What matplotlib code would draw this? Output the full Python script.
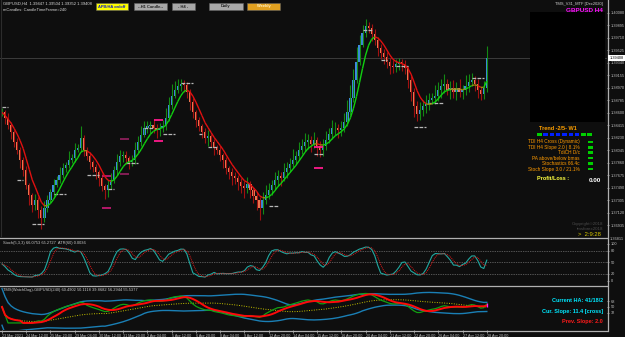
import matplotlib
matplotlib.use("Agg")
import matplotlib.pyplot as plt
from matplotlib.collections import LineCollection
from matplotlib.patches import Rectangle
import numpy as np
import pandas as pd

plt.rcParams['font.family'] = ['Liberation Sans', 'DejaVu Sans']

# H4 closes, GBPUSD 23 Mar - 28 Apr 2021
close = [1.3861, 1.3852, 1.3842, 1.3832, 1.3817, 1.3805, 1.3790, 1.3775, 1.3753, 1.3738,
         1.3724, 1.3731, 1.3716, 1.3704, 1.3719, 1.3731, 1.3743, 1.3753, 1.3761, 1.3768,
         1.3778, 1.3783, 1.3790, 1.3793, 1.3805, 1.3808, 1.3823, 1.3805, 1.3796, 1.3787,
         1.3780, 1.3772, 1.3764, 1.3752, 1.3746, 1.3753, 1.3761, 1.3775, 1.3787, 1.3796,
         1.3798, 1.3793, 1.3787, 1.3790, 1.3805, 1.3817, 1.3827, 1.3838, 1.3840, 1.3842,
         1.3838, 1.3835, 1.3838, 1.3840, 1.3852, 1.3872, 1.3885, 1.3894, 1.3900, 1.3903,
         1.3901, 1.3891, 1.3876, 1.3861, 1.3849, 1.3840, 1.3832, 1.3823, 1.3826, 1.3817,
         1.3808, 1.3805, 1.3798, 1.3790, 1.3778, 1.3772, 1.3767, 1.3764, 1.3758, 1.3752,
         1.3749, 1.3755, 1.3746, 1.3737, 1.3731, 1.3719, 1.3731, 1.3738, 1.3746, 1.3753,
         1.3761, 1.3767, 1.3764, 1.3772, 1.3778, 1.3784, 1.3790, 1.3796, 1.3805, 1.3811,
         1.3817, 1.3820, 1.3814, 1.3820, 1.3811, 1.3805, 1.3811, 1.3820, 1.3829, 1.3838,
         1.3838, 1.3835, 1.3838, 1.3846, 1.3861, 1.3882, 1.3909, 1.3935, 1.3960, 1.3978,
         1.3989, 1.3986, 1.3977, 1.3968, 1.3956, 1.3949, 1.3943, 1.3935, 1.3929, 1.3928,
         1.3932, 1.3935, 1.3932, 1.3926, 1.3909, 1.3891, 1.3870, 1.3858, 1.3864, 1.3870,
         1.3873, 1.3879, 1.3882, 1.3885, 1.3894, 1.3900, 1.3903, 1.3894, 1.3897, 1.3891,
         1.3897, 1.3891, 1.3894, 1.3900, 1.3906, 1.3909, 1.3903, 1.3894, 1.3888, 1.3897,
         1.3941]
# wick lengths in pips above / below the body
wick_up = [6, 4, 8, 5, 3, 6, 4, 5, 7, 4, 3, 9, 5, 6, 10, 8, 5, 9, 6, 12,
           8, 5, 14, 7, 10, 6, 18, 5, 4, 6, 3, 5, 4, 6, 3, 8, 10, 7, 12, 9,
           6, 5, 4, 8, 12, 9, 14, 10, 8, 6, 9, 5, 7, 10, 15, 12, 18, 14, 10, 8,
           6, 5, 4, 6, 3, 5, 4, 6, 9, 3, 5, 4, 6, 3, 5, 4, 7, 5, 4, 6,
           8, 10, 5, 4, 6, 5, 12, 15, 10, 8, 12, 9, 6, 14, 10, 9, 16, 8, 12, 10,
           14, 9, 6, 12, 5, 8, 10, 14, 9, 12, 8, 6, 10, 14, 18, 20, 16, 22, 15, 12,
           10, 6, 5, 8, 4, 6, 5, 7, 6, 9, 8, 6, 5, 7, 4, 5, 6, 8, 12, 9,
           14, 10, 8, 16, 12, 10, 14, 8, 10, 12, 9, 14, 8, 16, 12, 10, 6, 8, 5, 10,
           18]
wick_dn = [5, 8, 6, 10, 7, 5, 12, 9, 6, 14, 10, 8, 12, 16, 6, 5, 4, 6, 3, 5,
           4, 6, 5, 4, 6, 3, 5, 8, 6, 10, 7, 9, 12, 8, 14, 10, 6, 5, 7, 6,
           9, 8, 10, 6, 5, 4, 6, 3, 8, 10, 7, 12, 9, 6, 5, 4, 6, 3, 5, 8,
           10, 9, 12, 8, 10, 6, 9, 7, 12, 8, 10, 6, 9, 12, 8, 10, 14, 9, 12, 10,
           15, 8, 12, 10, 14, 18, 8, 6, 5, 7, 6, 9, 12, 5, 8, 6, 4, 7, 5, 6,
           8, 10, 12, 6, 14, 10, 9, 6, 5, 8, 10, 12, 9, 6, 5, 4, 6, 5, 4, 3,
           5, 8, 10, 7, 12, 9, 10, 8, 11, 9, 7, 8, 10, 9, 12, 14, 16, 10, 8, 9,
           10, 8, 6, 9, 7, 12, 10, 8, 14, 9, 12, 8, 10, 7, 9, 6, 10, 12, 9, 8,
           6]
time_labels = ['23 Mar 2021', '24 Mar 12:00', '25 Mar 20:00', '29 Mar 04:00', '30 Mar 12:00',
               '31 Mar 20:00', '2 Apr 04:00', '5 Apr 12:00', '6 Apr 20:00', '8 Apr 04:00',
               '9 Apr 12:00', '12 Apr 20:00', '14 Apr 04:00', '15 Apr 12:00', '16 Apr 20:00',
               '20 Apr 04:00', '21 Apr 12:00', '22 Apr 20:00', '26 Apr 04:00', '27 Apr 12:00',
               '28 Apr 20:00']
price_ticks = [1.40080, 1.39895, 1.39710, 1.39525, 1.39340, 1.39155, 1.38970, 1.38785,
               1.38600, 1.38415, 1.38230, 1.38045, 1.37860, 1.37675, 1.37490, 1.37305,
               1.37120, 1.36935]
last_price = 1.39408

# grey candle-timeframe dashes and magenta range boxes
dash_bar0 = [0, 5, 10, 17, 28, 35, 41, 47, 53, 59, 65, 68, 88, 103, 119, 125, 130, 136, 141, 147, 155]
dash_bar1 = [2, 7, 14, 21, 32, 37, 45, 50, 57, 63, 66, 71, 91, 106, 122, 127, 134, 140, 146, 151, 159]
dash_price = [1.3869, 1.3761, 1.3696, 1.3740, 1.3768, 1.3747, 1.3786, 1.3838, 1.3829, 1.3904, 1.3829,
              1.3810, 1.3722, 1.3800, 1.3983, 1.3938, 1.3929, 1.3839, 1.3875, 1.3895, 1.3912]
box_bar0 = [33, 39, 50, 103]
box_bar1 = [36, 42, 53, 106]
box_top = [1.3766, 1.3821, 1.3849, 1.3809]
box_bot = [1.3719, 1.3769, 1.3818, 1.3778]
box_color = ['#c01870', '#8c1f5a', '#ff1a8c', '#ff1a8c']

BG = '#0e0e0e'
W, H = 625, 337
TICK = '#c0c0c0'
FS = 2.8


def fx(x):
    return x / W


def fy(y):
    return 1 - y / H


c = np.array(close)
n = len(c)
idx = np.arange(n)
o = np.r_[c[0], c[:-1]]
hi = np.maximum(o, c) + np.array(wick_up) * 1e-4
lo = np.minimum(o, c) - np.array(wick_dn) * 1e-4
up = c >= o

fig = plt.figure(figsize=(W / 100, H / 100), dpi=100, facecolor=BG)
xlim = (-2 / 3.03, 605 / 3.03)

# ---- main price panel
ax = fig.add_axes([0, fy(236), fx(607), 236 / H], facecolor=BG)
ax.vlines(idx[up], lo[up], hi[up], color='#138a13', lw=0.8)
ax.vlines(idx[~up], lo[~up], hi[~up], color='#a01010', lw=0.8)
ax.bar(idx[up], (c - o)[up], bottom=o[up], width=0.72, color='#3d8be0', lw=0)
ax.bar(idx[~up], (o - c)[~up], bottom=c[~up], width=0.72, color='#ef7b52', lw=0)
ax.hlines(dash_price, dash_bar0, dash_bar1, color='#b8b8b8', lw=0.9, linestyles=(0, (3, 1)))
ax.hlines(box_top, box_bar0, box_bar1, color=box_color, lw=1.3)
ax.hlines(box_bot, box_bar0, box_bar1, color=box_color, lw=1.3)
ax.axhline(last_price, color='#3c3c3c', lw=0.7, zorder=0)

# LWMA(8) coloured by slope
w = np.arange(1, 9)
ma = []
for i in range(n):
    seg = c[max(0, i - 7):i + 1]
    ww = w[-len(seg):]
    ma.append(np.dot(seg, ww) / ww.sum())
ma = np.array(ma)
d = np.diff(ma)
cols = np.where(d > 1.2e-4, '#10d010', np.where(d < -1.2e-4, '#e01010', '#9a8a10'))
segs = np.stack([np.column_stack([idx[:-1], ma[:-1]]), np.column_stack([idx[1:], ma[1:]])], axis=1)
ax.add_collection(LineCollection(segs, colors=cols, lw=1.0))

ax.set_xlim(*xlim)
ax.set_ylim(1.40272 - 236 * 0.000148, 1.40272)
ax.yaxis.tick_right()
ax.set_yticks(price_ticks)
ax.set_yticklabels([f'{p:.5f}' for p in price_ticks])
ax.tick_params(axis='y', colors=TICK, labelsize=FS, length=1.5, width=0.5, pad=1.2)
ax.set_xticks([])
for s in ax.spines.values():
    s.set_visible(False)

# ---- stochastic panel
hh = pd.Series(hi).rolling(5, min_periods=1).max().values
ll = pd.Series(lo).rolling(5, min_periods=1).min().values
num = pd.Series(c - ll).rolling(3, min_periods=1).sum()
den = pd.Series(hh - ll).rolling(3, min_periods=1).sum()
k = (100 * num / den).values
dline = pd.Series(k).rolling(3, min_periods=1).mean().values

ax2 = fig.add_axes([0, fy(284), fx(607), 45 / H], facecolor=BG)
for lv in (20, 50, 80):
    ax2.axhline(lv, color='#9a9a9a', lw=0.5, ls=(0, (1, 1.5)))
ax2.plot(idx, k, color='#20a8a0', lw=0.8)
ax2.plot(idx, dline, color='#e01818', lw=0.7, ls=(0, (1, 1)))
ax2.set_xlim(*xlim)
ax2.set_ylim(-8, 112)
ax2.yaxis.tick_right()
ax2.set_yticks([0, 20, 50, 80, 100])
ax2.set_yticklabels(['0', '20', '50', '80', '100'])
ax2.tick_params(axis='y', colors=TICK, labelsize=FS, length=1.5, width=0.5, pad=1.2)
ax2.set_xticks([])
for s in ax2.spines.values():
    s.set_visible(False)

# ---- TDI panel
delta = pd.Series(c).diff().fillna(0)
gain = delta.clip(lower=0).ewm(alpha=1 / 13, adjust=False).mean()
loss = (-delta.clip(upper=0)).ewm(alpha=1 / 13, adjust=False).mean()
rsi = 100 - 100 / (1 + gain / loss.replace(0, np.nan))
rsi = rsi.fillna(50)
base = rsi.rolling(34, min_periods=1).mean()
sd = rsi.rolling(34, min_periods=2).std().bfill()
green = rsi.rolling(2, min_periods=1).mean()
red = rsi.rolling(7, min_periods=1).mean()

ax3 = fig.add_axes([0, fy(330), fx(607), 43 / H], facecolor=BG)
ax3.plot(idx, base + 1.6185 * sd, color='#1a7fb5', lw=1.0)
ax3.plot(idx, base - 1.6185 * sd, color='#1a7fb5', lw=1.0)
ax3.plot(idx, base, color='#c8c400', lw=0.7, ls=(0, (1, 1.5)))
ax3.plot(idx, green, color='#12a012', lw=0.9)
ax3.plot(idx, red, color='#ff0a0a', lw=1.4)
ax3.vlines(idx[-1], min(green.iloc[-1], red.iloc[-1]) - 4, max(green.iloc[-1], red.iloc[-1]) + 4,
           color='#ff20ff', lw=0.9)
ax3.set_xlim(*xlim)
ax3.set_ylim(-22, 112)
ax3.yaxis.tick_right()
ax3.set_yticks([32, 50, 68])
ax3.set_yticklabels(['32', '50', '68'])
ax3.tick_params(axis='y', colors=TICK, labelsize=FS, length=1.5, width=0.5, pad=1.2)
ax3.set_xticks(np.arange(0, n, 8))
ax3.set_xticklabels(time_labels, ha='left')
ax3.tick_params(axis='x', colors=TICK, labelsize=2.7, length=2, width=0.5, pad=0.8)
for s in ax3.spines.values():
    s.set_visible(False)

# panel borders
for y in (237.5, 285.5, 330.5):
    fig.add_artist(plt.Line2D([0, fx(607)], [fy(y), fy(y)], color='#b0b0b0', lw=0.9))
fig.add_artist(plt.Line2D([fx(607.5), fx(607.5)], [fy(0), fy(330.5)], color='#b0b0b0', lw=0.9))
fig.add_artist(plt.Line2D([fx(1), fx(1)], [fy(0), fy(236)], color='#2c2c2c', lw=0.8))

# current price box
fig.add_artist(Rectangle((fx(608), fy(61)), fx(17), 6 / H, transform=fig.transFigure,
                         facecolor='white', edgecolor='none', zorder=6))
fig.text(fx(609.5), fy(58), f'{last_price:.5f}', color='black', fontsize=FS, va='center', zorder=7)
fig.text(fx(609.5), fy(239.5), '1.36811', color=TICK, fontsize=FS, va='center')

# top-left info and buttons
fig.text(fx(3), fy(2), 'GBPUSD,H4  1.39447 1.39504 1.39352 1.39408', color='#d8d8d8',
         fontsize=3.0, va='top')
fig.text(fx(3), fy(8), 'mCandles: CandleTimeFrame=240', color='#d8d8d8', fontsize=3.0, va='top')
buttons = [('APB/HA on/off', 96, 128, '#ffff00', '#1020c0'),
           ('--H1 Candle--', 134, 167, '#a8a8a8', '#202020'),
           ('- H4 -', 172, 195, '#a8a8a8', '#202020'),
           ('Daily', 209, 243, '#a8a8a8', '#202020'),
           ('Weekly', 247, 280, '#e0a020', '#fff0c0')]
for label, x0, x1, fc, tc in buttons:
    fig.add_artist(Rectangle((fx(x0), fy(10)), fx(x1 - x0), 7 / H, transform=fig.transFigure,
                             facecolor=fc, edgecolor='#606060', lw=0.4, zorder=6))
    fig.text(fx((x0 + x1) / 2), fy(6.5), label, color=tc, fontsize=2.9, ha='center', va='center',
             fontweight='bold', zorder=7)

# right info panel
fig.text(fx(603), fy(4.5), 'TMS_V31_MTF [Dec2020]', color='#d0d0d0', fontsize=2.9, ha='right', va='center')
fig.text(fx(603), fy(10.5), 'GBPUSD H4', color='#ff10ff', fontsize=4.6, ha='right', va='center',
         fontweight='bold')
fig.add_artist(Rectangle((fx(530), fy(122)), fx(75), 110 / H, transform=fig.transFigure,
                         facecolor='black', edgecolor='none', zorder=5))
fig.text(fx(558), fy(128), 'Trend -2/5- W1', color='#ffa000', fontsize=4.0, ha='center', va='center',
         fontweight='bold')
sq_cols = ['#00d000', '#0020ff', '#0020ff', '#0020ff', '#0020ff', '#0020ff', '#0020ff', '#00d000', '#00d000']
for i, sc in enumerate(sq_cols):
    fig.add_artist(Rectangle((fx(537 + 6.3 * i), fy(135.5)), fx(4.5), 3 / H, transform=fig.transFigure,
                             facecolor=sc, edgecolor='none'))
rows = ['TDI H4 Cross (Dynamic)', 'TDI H4 Slope 2.0 | 8.1%', 'TdiCH D/c',
        'PA above/below bmas', 'Stochastics 66.4c', 'Stoch Slope 3.0 / 21.1%']
for i, r in enumerate(rows):
    yy = 142 + 5.4 * i
    fig.text(fx(580), fy(yy), r, color='#ff9a00', fontsize=3.4, ha='right', va='center')
    fig.add_artist(Rectangle((fx(588), fy(yy + 1.2)), fx(4.5), 2.6 / H, transform=fig.transFigure,
                             facecolor='#00d000', edgecolor='none'))
fig.text(fx(553), fy(178), 'Profit/Loss :', color='#ffff40', fontsize=4.0, ha='center', va='center',
         fontweight='bold')
fig.text(fx(595), fy(180), '0.00', color='white', fontsize=4.6, ha='center', va='center',
         fontweight='bold')
fig.text(fx(603), fy(224), 'Copyright\u00a92018', color='#4a4a4a', fontsize=3.2, ha='right', va='center')
fig.text(fx(603), fy(229), 'tmsforex2018', color='#4a4a4a', fontsize=3.2, ha='right', va='center')
fig.text(fx(601), fy(234), '>  2:9:28', color='#d8c800', fontsize=4.2, ha='right', va='center')

# sub-window labels
fig.text(fx(3), fy(243), 'Stoch(5,3,3) 66.0753 65.2727  ATR(60) 0.0036', color='#c8c8c8',
         fontsize=2.9, va='center')
fig.text(fx(3), fy(289.5), 'TMS(WatchDog)-GBPUSD(240) 60.4902 50.1118 39.8682 56.2944 55.5377',
         color='#c8c8c8', fontsize=2.9, va='center')
fig.text(fx(603), fy(301), 'Current HA: 41/18/2', color='#00e8ff', fontsize=4.0, ha='right',
         va='center', fontweight='bold')
fig.text(fx(603), fy(311), 'Cur. Slope: 11.4 [cross]', color='#00e8ff', fontsize=4.0, ha='right',
         va='center', fontweight='bold')
fig.text(fx(603), fy(322), 'Prev. Slope: 2.0', color='#ff1a1a', fontsize=4.0, ha='right',
         va='center', fontweight='bold')

fig.savefig('out.png', dpi=100, facecolor=BG)
